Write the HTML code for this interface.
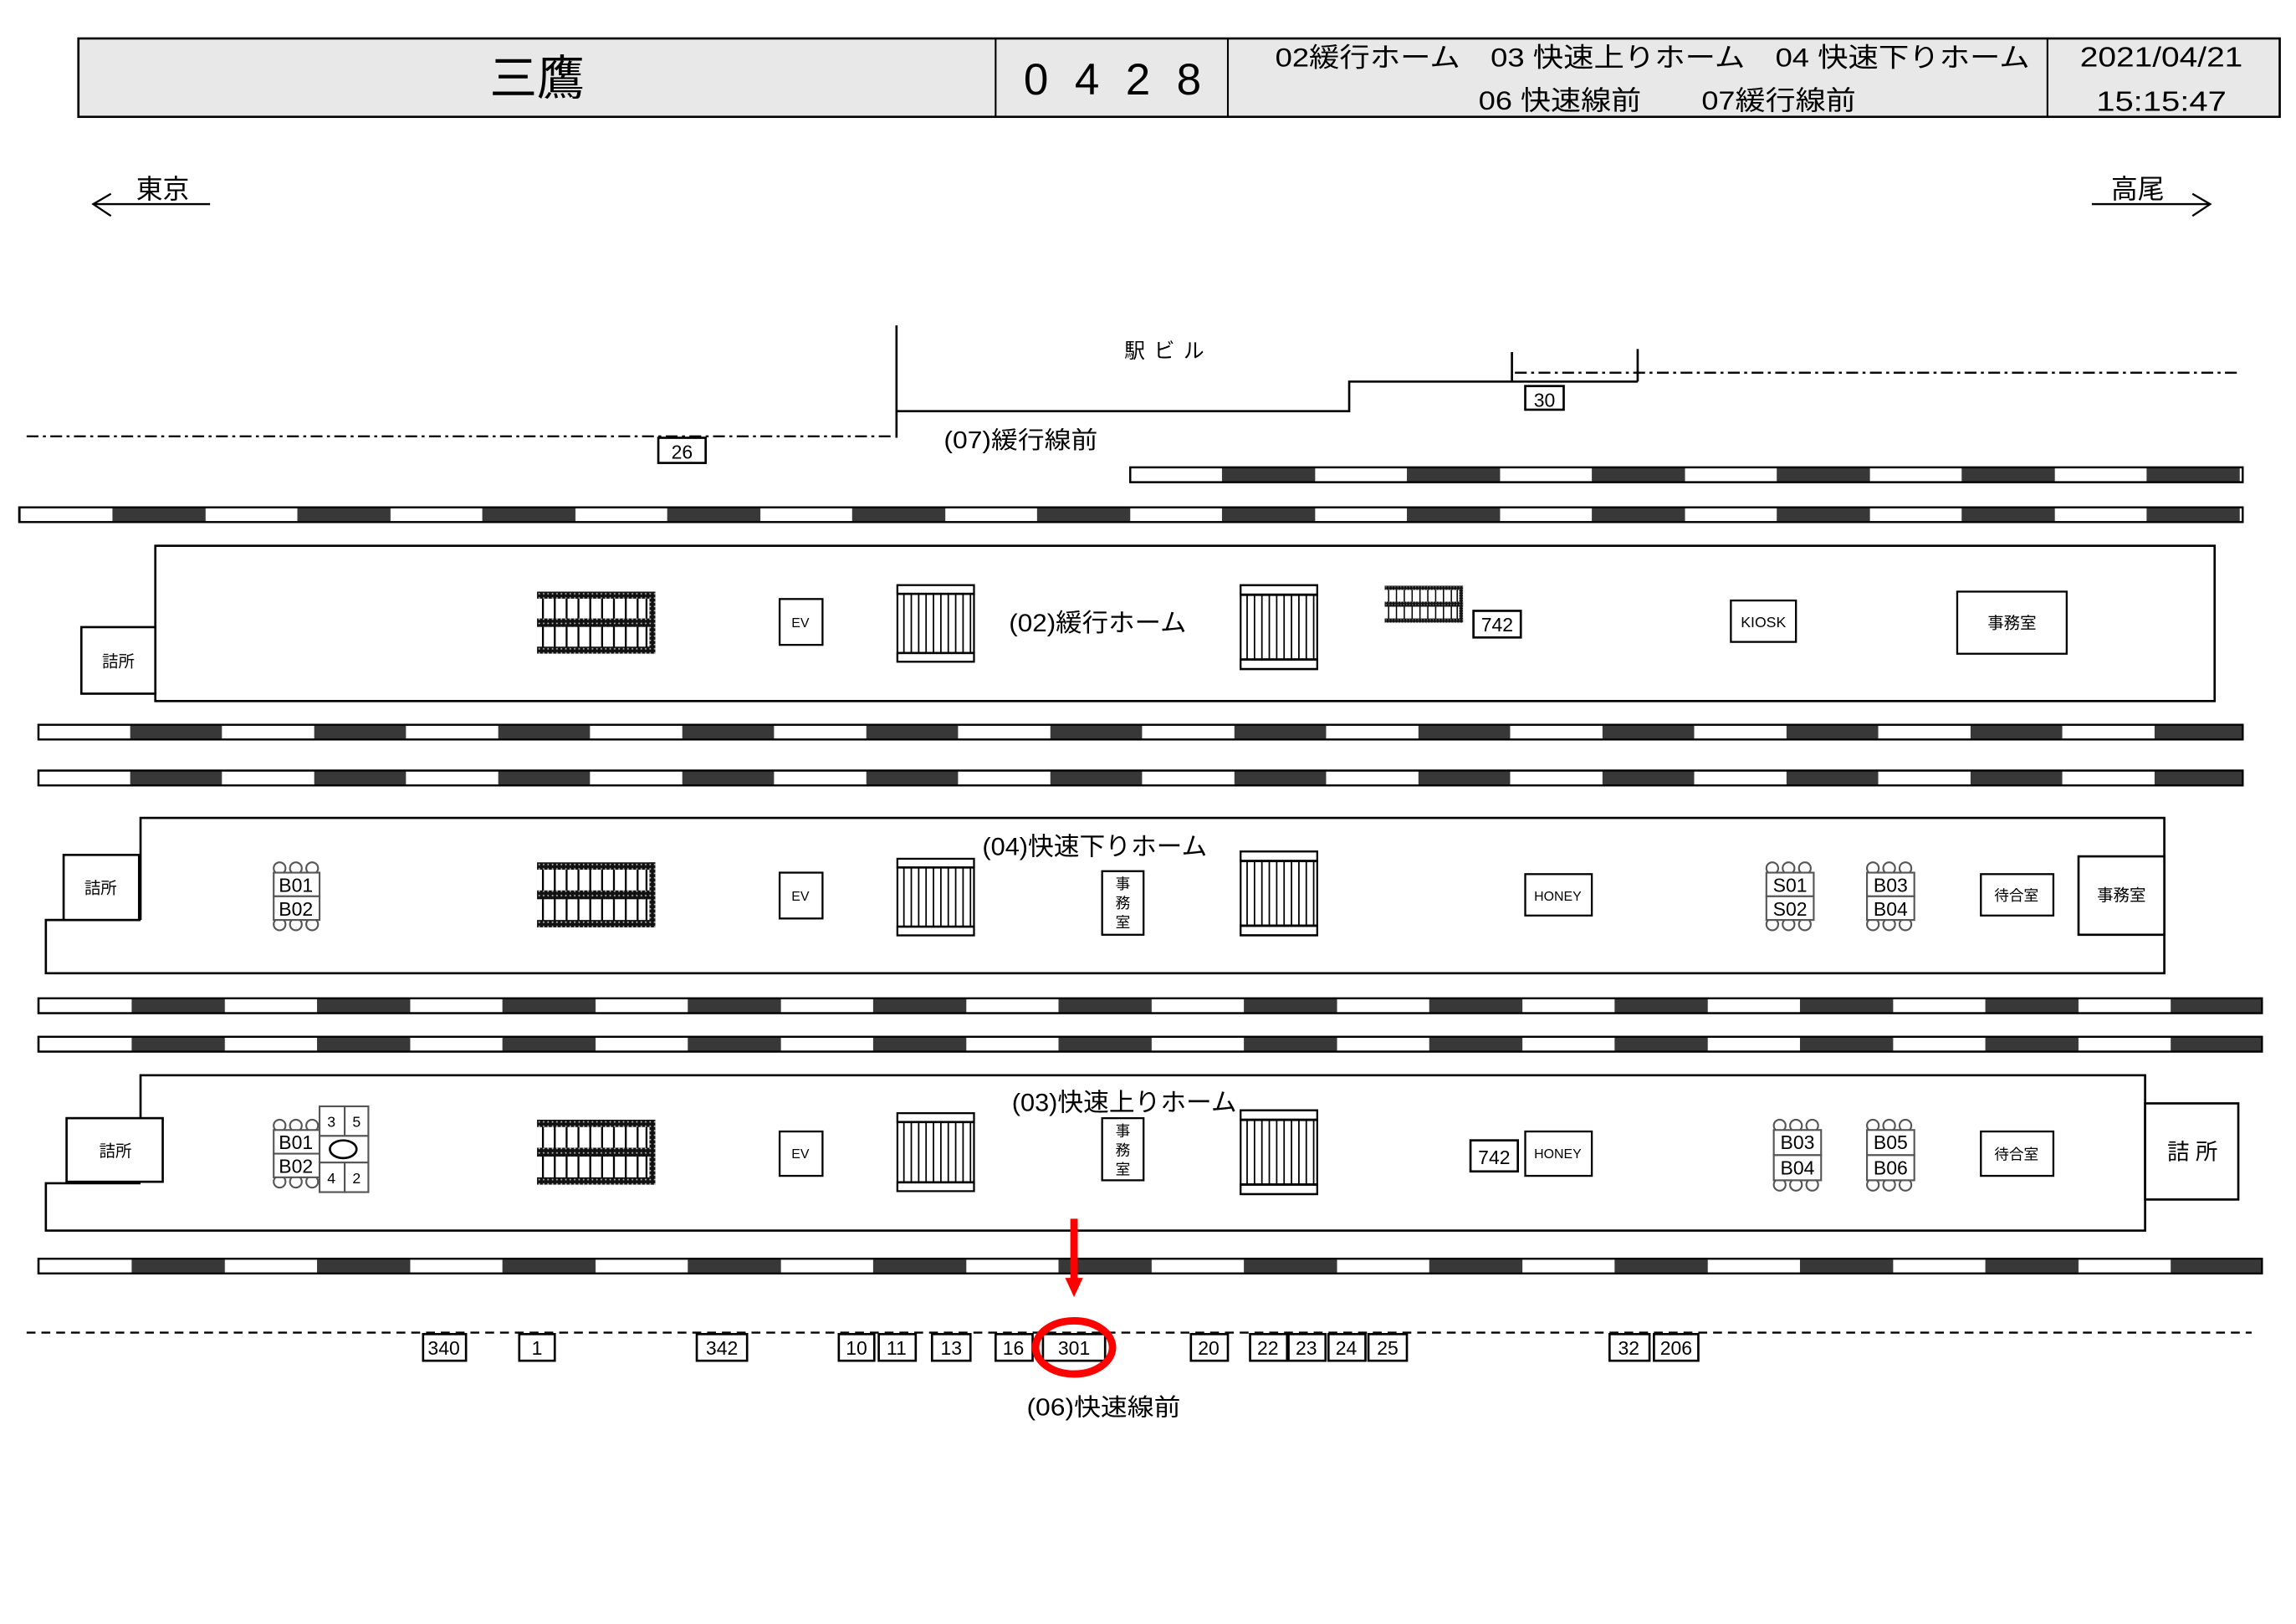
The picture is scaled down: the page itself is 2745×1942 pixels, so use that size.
<!DOCTYPE html>
<html><head><meta charset="utf-8"><style>
html,body{margin:0;padding:0;background:#fff}
svg{display:block}
text{font-family:"Liberation Sans","Noto Sans CJK JP",sans-serif;fill:#000}
</style></head><body>
<svg width="2745" height="1942" viewBox="0 0 1552 1098" preserveAspectRatio="none" xmlns="http://www.w3.org/2000/svg">
<defs>
<pattern id="dots" width="3" height="3" patternUnits="userSpaceOnUse"><rect width="3" height="3" fill="#111"/><rect x="1" y="1" width="1" height="1" fill="#bbb"/></pattern>
<pattern id="r1" x="76" y="0" width="125" height="20" patternUnits="userSpaceOnUse"><rect x="0" y="0" width="63" height="20" fill="#383838"/></pattern>
<pattern id="r2" x="88" y="0" width="124.4" height="20" patternUnits="userSpaceOnUse"><rect x="0" y="0" width="62" height="20" fill="#383838"/></pattern>
<pattern id="r3" x="89" y="0" width="125.3" height="20" patternUnits="userSpaceOnUse"><rect x="0" y="0" width="63" height="20" fill="#383838"/></pattern>
<symbol id="st" viewBox="0 0 53 53" preserveAspectRatio="none">
<rect x="0.5" y="0.5" width="52" height="52" fill="#fff" stroke="#000" stroke-width="1.5"/>
<rect x="0.5" y="0.5" width="52" height="6" fill="#fff" stroke="#000" stroke-width="1.5"/>
<rect x="0.5" y="46.5" width="52" height="6" fill="#fff" stroke="#000" stroke-width="1.5"/>
<path d="M5 7V46M10 7V46M15 7V46M20 7V46M25 7V46M30 7V46M35 7V46M40 7V46M45 7V46M50 7V46" stroke="#000" stroke-width="1"/>
</symbol>
<symbol id="esc" viewBox="0 0 80 44" preserveAspectRatio="none">
<path d="M4 4V40M12 4V40M20 4V40M28 4V40M36 4V40M44 4V40M52 4V40M60 4V40M68 4V40M74 4V40" stroke="#000" stroke-width="1.3"/>
<rect x="0" y="0" width="80" height="5" fill="url(#dots)"/>
<rect x="0" y="19" width="80" height="6" fill="url(#dots)"/>
<rect x="0" y="39" width="80" height="5" fill="url(#dots)"/>
<rect x="76" y="0" width="4" height="44" fill="url(#dots)"/>
</symbol>
</defs>

<!-- header -->
<rect x="53" y="26" width="1488" height="53" fill="#e8e8e8" stroke="#000" stroke-width="1.5"/>
<path d="M673 26V79M830 26V79M1384 26V79" stroke="#000" stroke-width="1.2"/>
<text x="363" y="64" font-size="32" text-anchor="middle">三鷹</text>
<text x="752" y="64" font-size="30" text-anchor="middle" textLength="120" lengthAdjust="spacing">0428</text>
<text x="1117" y="45" font-size="18" text-anchor="middle" textLength="510" lengthAdjust="spacingAndGlyphs">02緩行ホーム　03 快速上りホーム　04 快速下りホーム</text>
<text x="1127" y="74" font-size="18" text-anchor="middle" textLength="255" lengthAdjust="spacingAndGlyphs">06 快速線前　　07緩行線前</text>
<text x="1461" y="45" font-size="19" text-anchor="middle" textLength="110" lengthAdjust="spacingAndGlyphs">2021/04/21</text>
<text x="1461" y="75" font-size="19" text-anchor="middle" textLength="88" lengthAdjust="spacingAndGlyphs">15:15:47</text>

<!-- direction arrows -->
<text x="110" y="134" font-size="18" text-anchor="middle">東京</text>
<path d="M63 138H142M75 131L63 138L75 146" stroke="#000" stroke-width="1.3" fill="none"/>
<text x="1445" y="134" font-size="18" text-anchor="middle">高尾</text>
<path d="M1414 138H1494M1482 131L1494 138L1482 146" stroke="#000" stroke-width="1.3" fill="none"/>

<!-- station building -->
<path d="M606 220V296M606 278H912V258H1107M1022 238V258M1107 236V258" stroke="#000" stroke-width="1.5" fill="none"/>
<text x="790" y="242" font-size="14" text-anchor="middle" letter-spacing="6">駅ビル</text>
<path d="M1024 252H1512" stroke="#000" stroke-width="1.3" stroke-dasharray="8,3,2,3"/>
<path d="M18 295H604" stroke="#000" stroke-width="1.3" stroke-dasharray="8,3,2,3"/>
<rect x="1031" y="261" width="26" height="16" fill="#fff" stroke="#000" stroke-width="1.5"/>
<text x="1044" y="275" font-size="13" text-anchor="middle">30</text>
<rect x="445" y="296" width="32" height="17" fill="#fff" stroke="#000" stroke-width="1.5"/>
<text x="461" y="310" font-size="13" text-anchor="middle">26</text>
<text x="690" y="303" font-size="16" text-anchor="middle" textLength="104" lengthAdjust="spacingAndGlyphs">(07)緩行線前</text>

<!-- rails -->
<g stroke="#000" stroke-width="1.3">
<rect x="764" y="316" width="752" height="10" fill="#fff"/><rect x="764" y="316" width="752" height="10" fill="url(#r1)"/>
<rect x="13" y="343" width="1503" height="10" fill="#fff"/><rect x="13" y="343" width="1503" height="10" fill="url(#r1)"/>
<rect x="26" y="490" width="1490" height="10" fill="#fff"/><rect x="26" y="490" width="1490" height="10" fill="url(#r2)"/>
<rect x="26" y="521" width="1490" height="10" fill="#fff"/><rect x="26" y="521" width="1490" height="10" fill="url(#r2)"/>
<rect x="26" y="675" width="1503" height="10" fill="#fff"/><rect x="26" y="675" width="1503" height="10" fill="url(#r3)"/>
<rect x="26" y="701" width="1503" height="10" fill="#fff"/><rect x="26" y="701" width="1503" height="10" fill="url(#r3)"/>
<rect x="26" y="851" width="1503" height="10" fill="#fff"/><rect x="26" y="851" width="1503" height="10" fill="url(#r3)"/>
</g>

<!-- platform 02 -->
<rect x="105" y="369" width="1392" height="105" fill="none" stroke="#000" stroke-width="1.5"/>
<rect x="55" y="424" width="50" height="45" fill="#fff" stroke="#000" stroke-width="1.5"/>
<text x="80" y="451" font-size="11" text-anchor="middle">詰所</text>
<use href="#esc" x="363" y="400" width="80" height="42"/>
<rect x="527" y="405" width="29" height="31" fill="#fff" stroke="#000" stroke-width="1.3"/>
<text x="541" y="424" font-size="9" text-anchor="middle">EV</text>
<use href="#st" x="606" y="395" width="53" height="53"/>
<text x="742" y="427" font-size="17" text-anchor="middle" textLength="120" lengthAdjust="spacingAndGlyphs">(02)緩行ホーム</text>
<use href="#st" x="838" y="395" width="53" height="58"/>
<use href="#esc" x="936" y="396" width="53" height="25"/>
<rect x="996" y="413" width="32" height="18" fill="#fff" stroke="#000" stroke-width="1.5"/>
<text x="1012" y="427" font-size="13" text-anchor="middle">742</text>
<rect x="1170" y="406" width="44" height="28" fill="#fff" stroke="#000" stroke-width="1.3"/>
<text x="1192" y="424" font-size="10" text-anchor="middle">KIOSK</text>
<rect x="1323" y="400" width="74" height="42" fill="#fff" stroke="#000" stroke-width="1.3"/>
<text x="1360" y="425" font-size="11" text-anchor="middle">事務室</text>

<!-- platform 04 -->
<path d="M95 622V553H1463V658H31V622H95" fill="none" stroke="#000" stroke-width="1.5"/>
<rect x="43" y="578" width="51" height="44" fill="#fff" stroke="#000" stroke-width="1.5"/>
<text x="68" y="604" font-size="11" text-anchor="middle">詰所</text>
<rect x="1405" y="579" width="58" height="53" fill="#fff" stroke="#000" stroke-width="1.5"/>
<text x="1434" y="609" font-size="11" text-anchor="middle">事務室</text>
<g fill="#fff" stroke="#555" stroke-width="1.2">
<circle cx="189" cy="587" r="4"/><circle cx="200" cy="587" r="4"/><circle cx="211" cy="587" r="4"/>
<circle cx="189" cy="625" r="4"/><circle cx="200" cy="625" r="4"/><circle cx="211" cy="625" r="4"/>
<rect x="185" y="590" width="31" height="16"/><rect x="185" y="606" width="31" height="16"/>
</g>
<text x="200" y="603" font-size="13" text-anchor="middle">B01</text>
<text x="200" y="619" font-size="13" text-anchor="middle">B02</text>
<use href="#esc" x="363" y="583" width="80" height="44"/>
<rect x="527" y="590" width="29" height="31" fill="#fff" stroke="#000" stroke-width="1.3"/>
<text x="541" y="609" font-size="9" text-anchor="middle">EV</text>
<use href="#st" x="606" y="580" width="53" height="53"/>
<text x="740" y="578" font-size="17" text-anchor="middle" textLength="152" lengthAdjust="spacingAndGlyphs">(04)快速下りホーム</text>
<rect x="745" y="589" width="28" height="43" fill="#fff" stroke="#000" stroke-width="1.3"/>
<text x="759" y="601" font-size="10" text-anchor="middle">事</text><text x="759" y="614" font-size="10" text-anchor="middle">務</text><text x="759" y="627" font-size="10" text-anchor="middle">室</text>
<use href="#st" x="838" y="575" width="53" height="58"/>
<rect x="1031" y="591" width="45" height="28" fill="#fff" stroke="#000" stroke-width="1.3"/>
<text x="1053" y="609" font-size="9" text-anchor="middle">HONEY</text>
<g fill="#fff" stroke="#555" stroke-width="1.2">
<circle cx="1198" cy="587" r="4"/><circle cx="1209" cy="587" r="4"/><circle cx="1220" cy="587" r="4"/>
<circle cx="1198" cy="625" r="4"/><circle cx="1209" cy="625" r="4"/><circle cx="1220" cy="625" r="4"/>
<rect x="1194" y="590" width="32" height="16"/><rect x="1194" y="606" width="32" height="16"/>
<circle cx="1266" cy="587" r="4"/><circle cx="1277" cy="587" r="4"/><circle cx="1288" cy="587" r="4"/>
<circle cx="1266" cy="625" r="4"/><circle cx="1277" cy="625" r="4"/><circle cx="1288" cy="625" r="4"/>
<rect x="1262" y="590" width="32" height="16"/><rect x="1262" y="606" width="32" height="16"/>
</g>
<text x="1210" y="603" font-size="13" text-anchor="middle">S01</text><text x="1210" y="619" font-size="13" text-anchor="middle">S02</text>
<text x="1278" y="603" font-size="13" text-anchor="middle">B03</text><text x="1278" y="619" font-size="13" text-anchor="middle">B04</text>
<rect x="1339" y="591" width="49" height="28" fill="#fff" stroke="#000" stroke-width="1.3"/>
<text x="1363" y="609" font-size="10" text-anchor="middle">待合室</text>

<!-- platform 03 -->
<path d="M95 756V727H1450V832H31V800H95" fill="none" stroke="#000" stroke-width="1.5"/>
<rect x="45" y="756" width="65" height="43" fill="#fff" stroke="#000" stroke-width="1.5"/>
<text x="78" y="782" font-size="11" text-anchor="middle">詰所</text>
<rect x="1450" y="746" width="63" height="65" fill="#fff" stroke="#000" stroke-width="1.5"/>
<text x="1482" y="784" font-size="15" text-anchor="middle">詰 所</text>
<g fill="#fff" stroke="#555" stroke-width="1.2">
<circle cx="189" cy="761" r="4"/><circle cx="200" cy="761" r="4"/><circle cx="211" cy="761" r="4"/>
<circle cx="189" cy="799" r="4"/><circle cx="200" cy="799" r="4"/><circle cx="211" cy="799" r="4"/>
<rect x="185" y="764" width="31" height="16"/><rect x="185" y="780" width="31" height="16"/>
<rect x="216" y="748" width="17" height="20"/><rect x="233" y="748" width="16" height="20"/>
<rect x="216" y="768" width="33" height="18"/>
<rect x="216" y="786" width="17" height="20"/><rect x="233" y="786" width="16" height="20"/>
</g>
<ellipse cx="232" cy="777" rx="9" ry="6" fill="#fff" stroke="#000" stroke-width="1.5"/>
<text x="200" y="777" font-size="13" text-anchor="middle">B01</text><text x="200" y="793" font-size="13" text-anchor="middle">B02</text>
<text x="224" y="762" font-size="10" text-anchor="middle">3</text><text x="241" y="762" font-size="10" text-anchor="middle">5</text>
<text x="224" y="800" font-size="10" text-anchor="middle">4</text><text x="241" y="800" font-size="10" text-anchor="middle">2</text>
<use href="#esc" x="363" y="757" width="80" height="44"/>
<rect x="527" y="765" width="29" height="30" fill="#fff" stroke="#000" stroke-width="1.3"/>
<text x="541" y="783" font-size="9" text-anchor="middle">EV</text>
<use href="#st" x="606" y="752" width="53" height="54"/>
<text x="760" y="751" font-size="17" text-anchor="middle" textLength="152" lengthAdjust="spacingAndGlyphs">(03)快速上りホーム</text>
<rect x="745" y="756" width="28" height="42" fill="#fff" stroke="#000" stroke-width="1.3"/>
<text x="759" y="768" font-size="10" text-anchor="middle">事</text><text x="759" y="781" font-size="10" text-anchor="middle">務</text><text x="759" y="794" font-size="10" text-anchor="middle">室</text>
<use href="#st" x="838" y="750" width="53" height="58"/>
<rect x="994" y="771" width="32" height="21" fill="#fff" stroke="#000" stroke-width="1.5"/>
<text x="1010" y="787" font-size="13" text-anchor="middle">742</text>
<rect x="1031" y="765" width="45" height="30" fill="#fff" stroke="#000" stroke-width="1.3"/>
<text x="1053" y="783" font-size="9" text-anchor="middle">HONEY</text>
<g fill="#fff" stroke="#555" stroke-width="1.2">
<circle cx="1203" cy="761" r="4"/><circle cx="1214" cy="761" r="4"/><circle cx="1225" cy="761" r="4"/>
<circle cx="1203" cy="801" r="4"/><circle cx="1214" cy="801" r="4"/><circle cx="1225" cy="801" r="4"/>
<rect x="1199" y="764" width="32" height="17"/><rect x="1199" y="781" width="32" height="17"/>
<circle cx="1266" cy="761" r="4"/><circle cx="1277" cy="761" r="4"/><circle cx="1288" cy="761" r="4"/>
<circle cx="1266" cy="801" r="4"/><circle cx="1277" cy="801" r="4"/><circle cx="1288" cy="801" r="4"/>
<rect x="1262" y="764" width="32" height="17"/><rect x="1262" y="781" width="32" height="17"/>
</g>
<text x="1215" y="777" font-size="13" text-anchor="middle">B03</text><text x="1215" y="794" font-size="13" text-anchor="middle">B04</text>
<text x="1278" y="777" font-size="13" text-anchor="middle">B05</text><text x="1278" y="794" font-size="13" text-anchor="middle">B06</text>
<rect x="1339" y="765" width="49" height="30" fill="#fff" stroke="#000" stroke-width="1.3"/>
<text x="1363" y="784" font-size="10" text-anchor="middle">待合室</text>

<!-- 06 line -->
<path d="M18 901H1522" stroke="#000" stroke-width="1.3" stroke-dasharray="6,4"/>
<g fill="#fff" stroke="#000" stroke-width="1.5">
<rect x="286" y="902" width="29" height="18"/><rect x="351" y="902" width="24" height="18"/>
<rect x="471" y="902" width="34" height="18"/><rect x="567" y="902" width="24" height="18"/>
<rect x="594" y="902" width="25" height="18"/><rect x="630" y="902" width="26" height="18"/>
<rect x="673" y="902" width="25" height="18"/><rect x="705" y="902" width="42" height="18"/>
<rect x="805" y="902" width="25" height="18"/><rect x="845" y="902" width="25" height="18"/>
<rect x="871" y="902" width="25" height="18"/><rect x="898" y="902" width="25" height="18"/>
<rect x="925" y="902" width="26" height="18"/><rect x="1088" y="902" width="27" height="18"/>
<rect x="1118" y="902" width="30" height="18"/>
</g>
<g font-size="13" text-anchor="middle">
<text x="300" y="916">340</text><text x="363" y="916">1</text><text x="488" y="916">342</text>
<text x="579" y="916">10</text><text x="606" y="916">11</text><text x="643" y="916">13</text>
<text x="685" y="916">16</text><text x="726" y="916">301</text><text x="817" y="916">20</text>
<text x="857" y="916">22</text><text x="883" y="916">23</text><text x="910" y="916">24</text>
<text x="938" y="916">25</text><text x="1101" y="916">32</text><text x="1133" y="916">206</text>
</g>
<ellipse cx="726" cy="911" rx="26" ry="18" fill="none" stroke="#f00" stroke-width="5"/>
<path d="M726 824V866" stroke="#f00" stroke-width="5"/>
<path d="M720 864H732L726 877Z" fill="#f00"/>
<text x="746" y="957" font-size="16" text-anchor="middle" textLength="104" lengthAdjust="spacingAndGlyphs">(06)快速線前</text>
</svg>
</body></html>
